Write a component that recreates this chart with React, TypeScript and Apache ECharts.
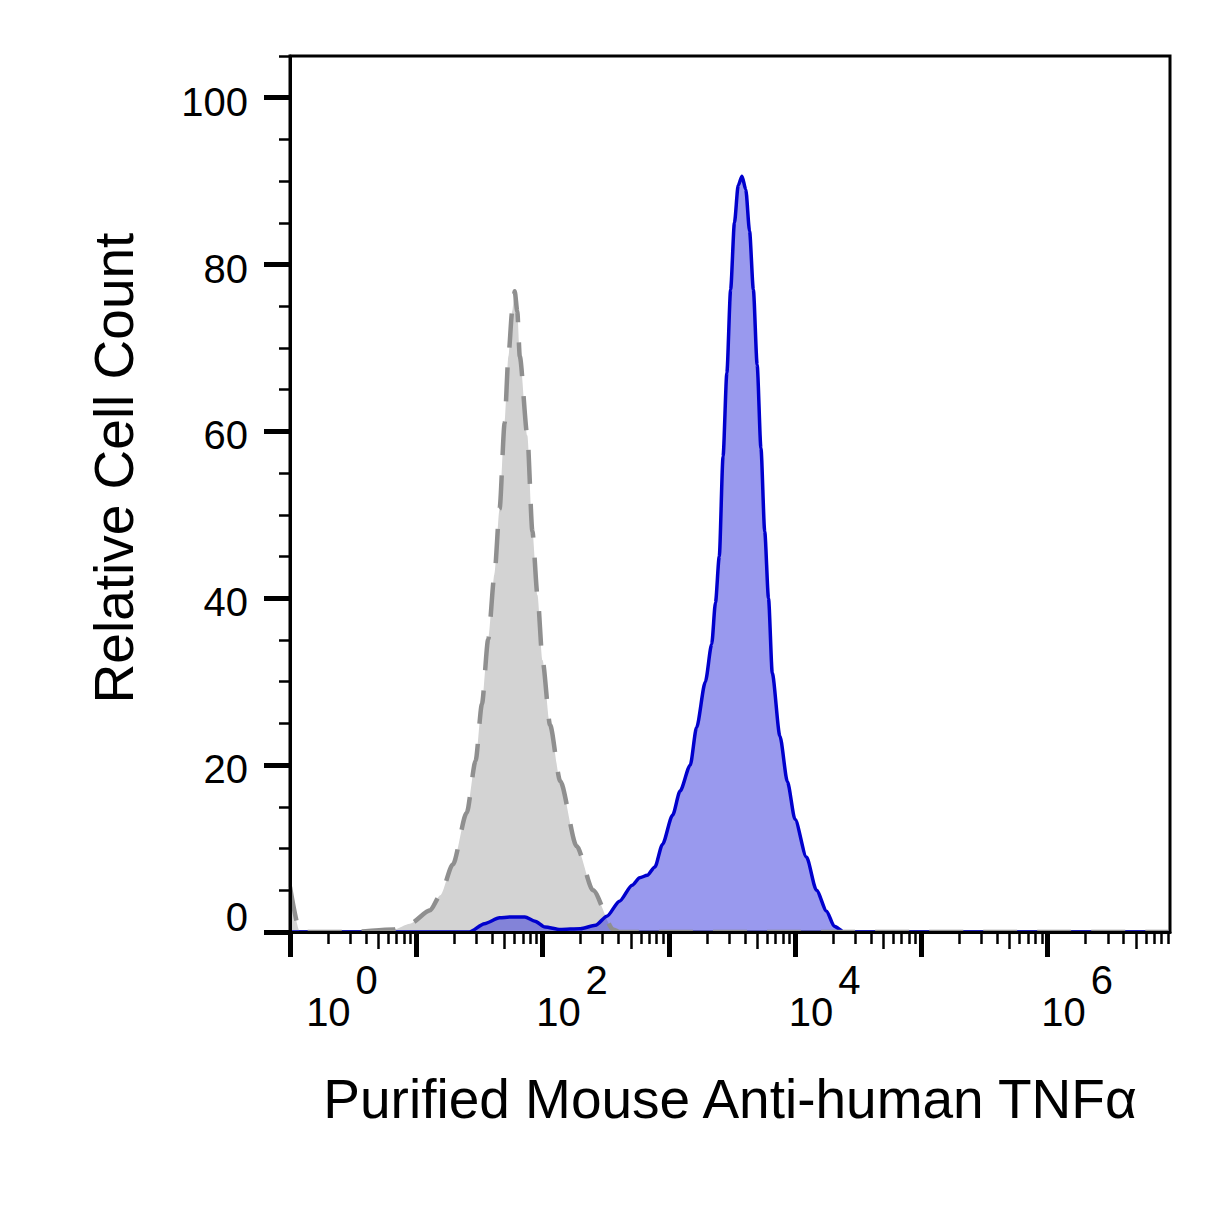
import React, { useEffect, useRef } from "react";
import * as echarts from "echarts";

// Isotype control (gray, dashed outline): x in log10 decades of fluorescence intensity
const isotypeLogIntensity = [
  0.0, 0.08, 0.47, 0.82, 0.95, 1.11, 1.19, 1.29, 1.4, 1.47, 1.52, 1.57, 1.62, 1.66, 1.7, 1.73,
  1.76, 1.78, 1.8, 1.82, 1.88, 1.92, 1.96, 2.0, 2.06, 2.14, 2.27, 2.4, 2.56, 2.61, 6.96,
];
const isotypeCount = [
  5.4, 0, 0, 0.3, 1.0, 2.6, 4.4, 8.1, 14.3, 20.5, 27.3, 35.1, 42.9, 50.7, 61.0, 69.0,
  74.4, 76.8, 74.4, 69.0, 59.5, 48.0, 40.4, 32.6, 24.8, 18.1, 10.3, 5.0, 0.3, 0, 0,
];

// Purified Mouse Anti-human TNFα (blue, filled)
const stainedLogIntensity = [
  0.0, 1.42, 1.54, 1.66, 1.74, 1.86, 1.94, 2.02, 2.14, 2.3, 2.42, 2.51, 2.61, 2.71, 2.77, 2.83,
  2.89, 2.95, 3.03, 3.09, 3.17, 3.22, 3.29, 3.34, 3.37, 3.4, 3.43, 3.46, 3.49, 3.52, 3.55, 3.58,
  3.61, 3.64, 3.67, 3.7, 3.73, 3.76, 3.79, 3.82, 3.88, 3.94, 4.0, 4.09, 4.17, 4.25, 4.31, 4.39,
  6.96,
];
const stainedCount = [
  0, 0, 1.0, 1.7, 1.8, 1.8, 1.3, 0.6, 0.3, 0.4, 0.8, 1.9, 3.7, 5.6, 6.5, 6.8,
  7.8, 10.5, 14.0, 16.9, 20.0, 24.5, 30.0, 34.5, 39.5, 45, 57, 67, 77, 85, 89.5, 90.6,
  89, 84, 77, 68, 58, 48, 40, 31, 23.5, 18, 13.5, 9, 5, 2.5, 0.7, 0,
  0,
];

// Axis ticks / labels
const yTickValues = [0, 20, 40, 60, 80, 100];
const xMajorDecades = [0, 1, 2, 3, 4, 5, 6];
const xLabelDecades = [0, 2, 4, 6];
const minorMultipliers = [2, 3, 4, 6, 7, 8, 9];
const midMultipliers = [5];

const X_MAX = 6.97;
const Y_MAX = 105;
const FONT = "'Liberation Sans', Arial, Helvetica, sans-serif";

function logTicks(mults: number[]): number[] {
  const out: number[] = [];
  for (const d of xMajorDecades) {
    for (const m of mults) {
      const v = d + Math.log10(m);
      if (v < X_MAX) out.push(v);
    }
  }
  return out;
}

function pairs(xs: number[], ys: number[]) {
  return xs.map((x, i) => [x, ys[i]]);
}

export default function App() {
  const ref = useRef<HTMLDivElement>(null);

  useEffect(() => {
    if (!ref.current) return;
    const chart = echarts.init(ref.current, undefined, { renderer: "svg" });

    const minorAxis = (vals: number[], len: number, w: number) => ({
      type: "value",
      position: "bottom",
      gridIndex: 0,
      min: 0,
      max: X_MAX,
      z: 10,
      axisLine: { show: false },
      axisLabel: { show: false },
      splitLine: { show: false },
      axisTick: { show: true, customValues: vals, length: len, lineStyle: { color: "#000", width: w } },
    });

    const option: any = {
      animation: false,
      backgroundColor: "#fff",
      grid: {
        left: 290,
        right: 58,
        top: 56,
        bottom: 286,
        show: true,
        borderColor: "#000",
        borderWidth: 3,
        backgroundColor: "transparent",
      },
      xAxis: [
        {
          type: "value",
          position: "bottom",
          min: 0,
          max: X_MAX,
          interval: 1,
          z: 10,
          axisLine: { show: true, lineStyle: { color: "#000", width: 3 } },
          axisTick: { show: true, customValues: xMajorDecades, length: 25, lineStyle: { color: "#000", width: 5 } },
          splitLine: { show: false },
          axisLabel: {
            customValues: xLabelDecades,
            margin: 28,
            color: "#000",
            fontFamily: FONT,
            formatter: (v: number) => {
              const e = Math.round(v);
              return `{${e === 0 ? "sp0" : "sp"}|\u00a0}{b|10}{u|${e}}`;
            },
            rich: {
              sp: { width: 59, lineHeight: 72, fontSize: 40, fontFamily: FONT },
              sp0: { width: 104, lineHeight: 72, fontSize: 40, fontFamily: FONT },
              b: { fontSize: 40, lineHeight: 40, verticalAlign: "bottom", color: "#000", fontFamily: FONT },
              u: {
                fontSize: 40,
                lineHeight: 40,
                verticalAlign: "top",
                color: "#000",
                fontFamily: FONT,
                padding: [0, 0, 0, 5],
              },
            },
          },
          name: "Purified Mouse Anti-human TNFα",
          nameLocation: "middle",
          nameGap: 139,
          nameTextStyle: { fontSize: 55, color: "#000", fontFamily: FONT },
        },
        minorAxis(logTicks(minorMultipliers), 12, 2.5),
        minorAxis(logTicks(midMultipliers), 17, 2.5),
      ],
      yAxis: [
        {
          type: "value",
          position: "left",
          min: 0,
          max: Y_MAX,
          interval: 20,
          z: 10,
          axisLine: { show: true, lineStyle: { color: "#000", width: 3 } },
          axisTick: { show: true, customValues: yTickValues, length: 26, lineStyle: { color: "#000", width: 5 } },
          splitLine: { show: false },
          axisLabel: {
            customValues: yTickValues,
            margin: 42,
            fontSize: 40,
            color: "#000",
            fontFamily: FONT,
            formatter: (v: number) => (v === 0 ? "{z|0}" : `{n|${v}}`),
            rich: {
              z: { fontSize: 40, color: "#000", fontFamily: FONT, padding: [0, 0, 30, 0] },
              n: { fontSize: 40, color: "#000", fontFamily: FONT, padding: [8, 0, 0, 0] },
            },
          },
          name: "Relative Cell Count",
          nameLocation: "middle",
          nameGap: 149,
          nameTextStyle: { fontSize: 55, color: "#000", fontFamily: FONT, padding: [0, 0, 0, 52] },
        },
        {
          type: "value",
          position: "left",
          min: 0,
          max: Y_MAX,
          interval: 5,
          z: 10,
          axisLine: { show: false },
          axisLabel: { show: false },
          splitLine: { show: false },
          axisTick: { show: true, length: 11, lineStyle: { color: "#000", width: 2.5 } },
        },
      ],
      series: [
        {
          name: "Isotype fill",
          type: "line",
          xAxisIndex: 0,
          yAxisIndex: 0,
          data: pairs(isotypeLogIntensity, isotypeCount),
          showSymbol: false,
          smooth: 0.25,
          smoothMonotone: "x",
          lineStyle: { width: 0, opacity: 0 },
          areaStyle: { color: "#d3d3d3", opacity: 1 },
          z: 2,
        },
        {
          name: "Purified Mouse Anti-human TNFα",
          type: "line",
          xAxisIndex: 0,
          yAxisIndex: 0,
          data: pairs(stainedLogIntensity, stainedCount),
          showSymbol: false,
          smooth: 0.25,
          smoothMonotone: "x",
          lineStyle: { color: "#0000cd", width: 3.5 },
          areaStyle: { color: "rgba(51,51,221,0.5)", opacity: 1 },
          z: 3,
        },
        {
          name: "Isotype outline",
          type: "line",
          xAxisIndex: 0,
          yAxisIndex: 0,
          data: pairs(isotypeLogIntensity, isotypeCount),
          showSymbol: false,
          smooth: 0.25,
          smoothMonotone: "x",
          lineStyle: { color: "#8f8f8f", width: 4.5, type: [34, 20] },
          z: 4,
        },
      ],
    };

    chart.setOption(option);
    return () => chart.dispose();
  }, []);

  return (
    <div
      ref={ref}
      style={{ position: "fixed", left: 0, top: 0, width: 1228, height: 1218, background: "#fff" }}
    />
  );
}
